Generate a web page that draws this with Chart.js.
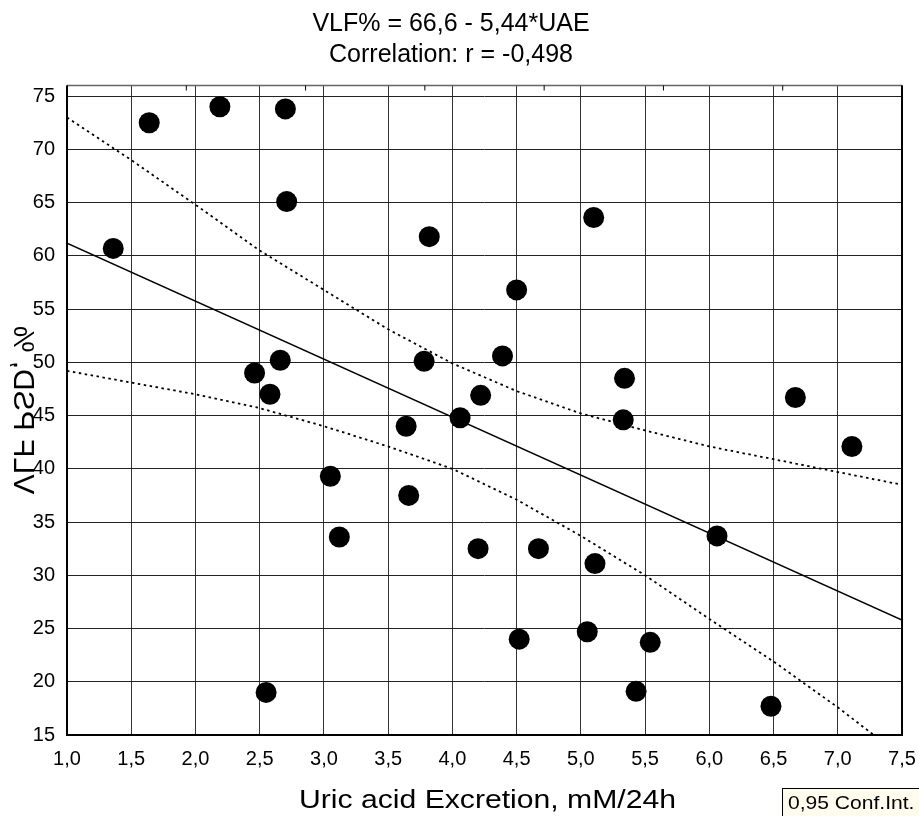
<!DOCTYPE html>
<html>
<head>
<meta charset="utf-8">
<title>VLF% vs UAE</title>
<script src="https://cdn.jsdelivr.net/npm/chart.js@4.4.1/dist/chart.umd.min.js"></script>
<style>
  body { margin: 0; background: #fff; }
  #wrap { width: 919px; height: 816px; position: relative; }
</style>
</head>
<body>
<div id="wrap"><canvas id="graphCanvas"></canvas></div>
<script>
//observed points: uric acid excretion (mM/24h) and VLF PSD (%)
const uaeValues = [1.36, 1.64, 2.19, 2.70, 2.71, 3.82, 2.66, 2.46, 2.58, 3.78, 4.22,
  5.10, 4.50, 4.39, 5.34, 6.67, 4.06, 3.64, 3.05, 3.66, 3.12, 4.20, 2.55,
  5.33, 7.11, 6.06, 4.67, 5.11, 4.52, 5.05, 5.54, 5.43, 6.48];
const vlfValues = [60.7, 72.5, 74.0, 73.8, 65.1, 61.8, 50.2, 49.0, 47.0, 50.1, 46.9,
  63.6, 56.8, 50.6, 48.5, 46.7, 44.8, 44.0, 39.3, 37.5, 33.6, 32.5, 19.0,
  44.6, 42.1, 33.7, 32.5, 31.1, 24.0, 24.7, 23.7, 19.1, 17.7];

//regression line end points (VLF% = 66,6 - 5,44*UAE)
const fitX = [1.0, 7.5];
const fitY = [61.2, 25.8];

//0,95 confidence band
const upperX = [1.0, 1.5, 2.0, 2.5, 3.0, 3.5, 4.0, 4.5, 5.0, 5.5, 6.0, 6.5, 7.0, 7.5];
const upperY = [73.0, 69.0, 64.8, 60.5, 56.8, 53.1, 49.9, 47.3, 45.2, 43.6, 42.1, 40.9, 39.7, 38.5];
const lowerX = [1.0, 1.5, 2.0, 2.5, 3.0, 3.5, 4.0, 4.5, 5.0, 5.5, 6.0, 6.5, 7.0, 7.28];
const lowerY = [49.2, 48.1, 47.0, 45.7, 44.0, 42.1, 40.0, 37.1, 33.7, 30.0, 25.9, 21.9, 17.6, 15.0];

//tick labels
const xTickLabels = ["1,0", "1,5", "2,0", "2,5", "3,0", "3,5", "4,0", "4,5", "5,0", "5,5", "6,0", "6,5", "7,0", "7,5"];
const yTickLabels = ["15", "20", "25", "30", "35", "40", "45", "50", "55", "60", "65", "70", "75"];

const titleLines = ["VLF% = 66,6 - 5,44*UAE", "Correlation: r = -0,498"];
const xTitle = "Uric acid Excretion, mM/24h";
const yTitle = "VLF PSD, %";
const legendText = "0,95 Conf.Int.";

const FONT = "'Liberation Sans', Arial, sans-serif";

const toPoints = (xs, ys) => xs.map((x, i) => ({ x: x, y: ys[i] }));

//draws text squeezed or stretched sideways (the original text is a bit wide)
const drawWideText = (ctx, text, x, y, stretch) => {
  ctx.save();
  ctx.translate(x, y);
  ctx.scale(stretch, 1);
  ctx.fillText(text, 0, 0);
  ctx.restore();
};

//draws the plot frame, inner top ticks, axis titles and the small legend box
const decorPlugin = {
  id: "decor",
  afterDraw(chart) {
    const ctx = chart.ctx;
    const a = chart.chartArea;
    ctx.save();

    //frame
    ctx.strokeStyle = "#666";
    ctx.lineWidth = 1.5;
    ctx.beginPath();
    ctx.moveTo(a.left, a.top);
    ctx.lineTo(a.right, a.top);
    ctx.stroke();
    ctx.strokeStyle = "#000";
    ctx.lineWidth = 2;
    ctx.beginPath();
    ctx.moveTo(a.left, a.top);
    ctx.lineTo(a.left, a.bottom);
    ctx.lineTo(a.right, a.bottom);
    ctx.lineTo(a.right, a.top);
    ctx.stroke();

    //inner ticks of the top axis
    const top = chart.scales.xTop;
    ctx.lineWidth = 1;
    top.ticks.forEach((t) => {
      const px = top.getPixelForValue(t.value);
      ctx.beginPath();
      ctx.moveTo(px, a.top);
      ctx.lineTo(px, a.top + 5);
      ctx.stroke();
    });

    ctx.fillStyle = "#000";
    ctx.textBaseline = "alphabetic";
    ctx.textAlign = "center";

    //x axis title
    ctx.font = "26px " + FONT;
    drawWideText(ctx, xTitle, (a.left + a.right) / 2 + 3, 808, 1.16);

    //y axis title, mirrored as in the original
    ctx.save();
    ctx.translate(14, 410);
    ctx.rotate(-Math.PI / 2);
    ctx.scale(1, -1);
    ctx.font = "30px " + FONT;
    ctx.fillText(yTitle, 0, 0);
    ctx.restore();

    //legend box
    ctx.fillStyle = "#fffcee";
    ctx.fillRect(782, 788, 140, 30);
    ctx.strokeStyle = "#000";
    ctx.lineWidth = 1;
    ctx.strokeRect(782.5, 788.5, 140, 30);
    ctx.fillStyle = "#000";
    ctx.textAlign = "left";
    ctx.font = "18px " + FONT;
    drawWideText(ctx, legendText, 788, 809, 1.17);

    ctx.restore();
  },
};

const lineStyle = {
  showLine: true,
  pointRadius: 0,
  pointHoverRadius: 0,
  borderColor: "#000",
  fill: false,
};

document.addEventListener("DOMContentLoaded", () => {
  Chart.defaults.font.family = FONT;
  Chart.defaults.color = "#000";

  const ctx = document.getElementById("graphCanvas").getContext("2d");
  new Chart(ctx, {
    type: "scatter",
    data: {
      datasets: [
        {
          label: "VLF PSD",
          data: toPoints(uaeValues, vlfValues),
          backgroundColor: "#000",
          borderWidth: 0,
          pointRadius: 10.5,
          pointHoverRadius: 10.5,
        },
        Object.assign({ label: "fit", data: toPoints(fitX, fitY), borderWidth: 1.5 }, lineStyle),
        Object.assign({ label: "upper", data: toPoints(upperX, upperY), borderWidth: 1.8, borderDash: [2.5, 3.5] }, lineStyle),
        Object.assign({ label: "lower", data: toPoints(lowerX, lowerY), borderWidth: 1.8, borderDash: [2.5, 3.5] }, lineStyle),
      ],
    },
    options: {
      responsive: true,
      maintainAspectRatio: false,
      animation: false,
      layout: { padding: { left: 0, right: 17, top: 0, bottom: 0 } },
      plugins: {
        legend: { display: false },
        tooltip: { enabled: false },
        title: {
          display: true,
          text: titleLines,
          color: "#000",
          font: { size: 25, weight: "normal", lineHeight: 1.25 },
          padding: { top: 8, bottom: 15 },
        },
      },
      scales: {
        x: {
          type: "linear",
          min: 1,
          max: 7.5,
          afterFit: (s) => {
            s.height = 81;
            s.paddingLeft = 0;
            s.paddingRight = 0;
          },
          ticks: {
            stepSize: 0.5,
            autoSkip: false,
            maxRotation: 0,
            padding: 12,
            font: { size: 20 },
            callback: (v, i) => xTickLabels[i],
          },
          grid: { color: "#333", lineWidth: 1, drawTicks: false },
          border: { display: false },
        },
        xTop: {
          type: "linear",
          position: "top",
          min: 0,
          max: 7,
          afterFit: (s) => {
            s.height = 0;
            s.paddingLeft = 0;
            s.paddingRight = 0;
          },
          ticks: { display: false, stepSize: 1 },
          grid: { drawOnChartArea: false, drawTicks: false },
          border: { display: false },
        },
        y: {
          type: "linear",
          min: 15,
          max: 76,
          afterFit: (s) => {
            s.width = 67;
            s.paddingTop = 0;
            s.paddingBottom = 0;
          },
          ticks: {
            stepSize: 5,
            includeBounds: false,
            padding: 12,
            font: { size: 20 },
            callback: (v, i) => yTickLabels[i],
          },
          grid: { color: "#222", lineWidth: 1, drawTicks: false },
          border: { display: false },
        },
      },
    },
    plugins: [decorPlugin],
  });
});
</script>
</body>
</html>
